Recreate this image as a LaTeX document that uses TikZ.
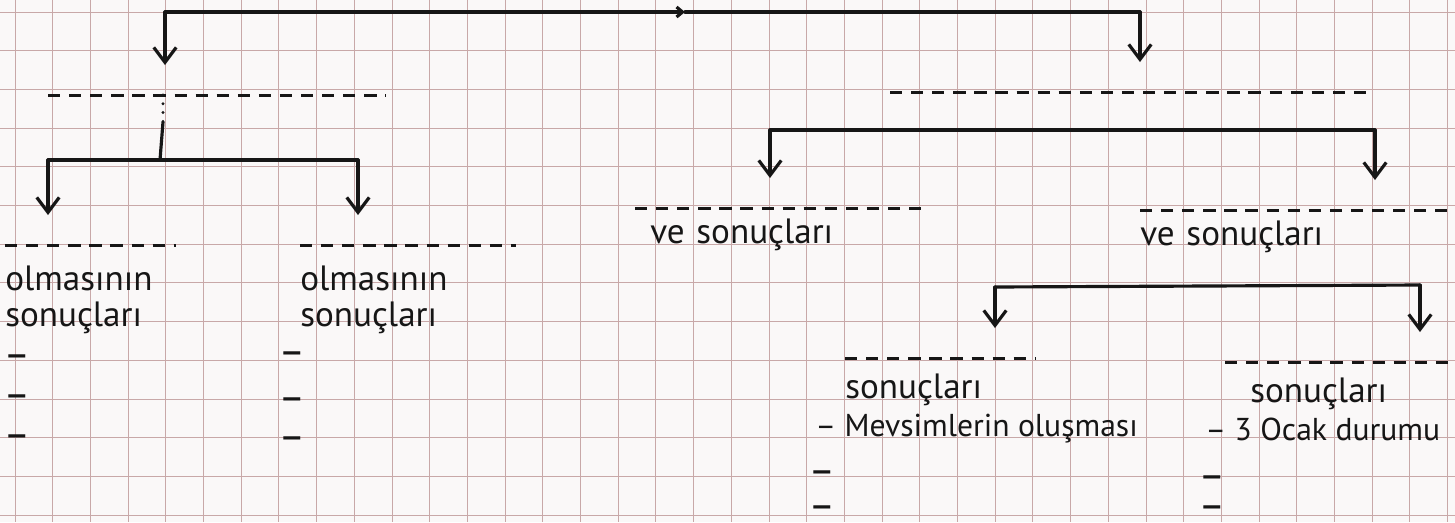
\documentclass[tikz,border=0pt]{standalone}
\usepackage{fontspec}
\setmainfont{PT Sans}
\usetikzlibrary{arrows.meta,positioning}

\definecolor{paper}{RGB}{250,248,248}
\definecolor{gridred}{RGB}{200,168,168}
\definecolor{ink}{RGB}{22,22,22}

\tikzset{
  gridline/.style={draw=gridred, line width=0.5pt},
  pen/.style={draw=ink, line width=1.8pt, line cap=round, line join=round},
  drop/.style={pen, -{Straight Barb[length=0.3cm,width=0.45cm]}, shorten >=0.6cm},
  dashline/.style={draw=ink, line width=1.7pt, dash pattern=on 7pt off 5pt},
  slot/.style={anchor=north west, inner xsep=0pt, inner ysep=0.32cm,
    text width=#1, align=left, text=ink,
    append after command={(\tikzlastnode.north west) edge[dashline] (\tikzlastnode.north east)}},
  item/.style={anchor=base west, inner sep=0pt, text=ink, font=\fontsize{18}{20}\selectfont},
  bullet/.style={anchor=west, inner sep=0pt, text=ink, font=\fontsize{16}{16}\selectfont\bfseries},
}

\begin{document}
\begin{tikzpicture}[
    x=0.02cm, y=-0.02cm,
    every node/.style={font=\fontsize{20}{20}\selectfont},
]
% paper
\useasboundingbox (0,0) rectangle (1455,522);
\fill[paper] (0,0) rectangle (1455,522);
\clip (0,0) rectangle (1455,522);
\foreach \k in {0,...,38} \draw[gridline] ({15+37.7*\k},0) -- ({15+37.7*\k},522);
\foreach \k in {0,...,13} \draw[gridline] (0,{12+38.7*\k}) -- (1455,{12+38.7*\k});

% blanks
\node[slot=6.74cm] (topleft) at (48,95) {};
\node[slot=9.6cm] (topright) at (890,92) {};
\node[slot=3.4cm, inner ysep=0.42cm] (leftA) at (5,245) {olmasının\\sonuçları};
\node[slot=4.3cm, inner ysep=0.42cm] (leftB) at (300,245) {olmasının\\sonuçları};
\node[slot=5.8cm, inner ysep=0.22cm] (rightA) at (635,208) {\hspace*{0.3cm}ve sonuçları};
\node[slot=6.3cm, inner ysep=0.22cm] (rightB) at (1140,210) {ve sonuçları};
\node[slot=3.8cm] (seasons) at (845,358) {sonuçları};
\node[slot=4.6cm] (january) at (1225,362) {\hspace*{0.5cm}sonuçları};

% items
\node[item] (seasonsA) at (815,436) {– Mevsimlerin oluşması};
\node[item] (januaryA) at (1205,440) {– 3 Ocak durumu};
\foreach \y in {360,400,440} \node[bullet] (leftAdash\y) at (5,\y) {—};
\foreach \y in {357,403,442} \node[bullet] (leftBdash\y) at (280,\y) {—};
\foreach \y in {476,511} \node[bullet] (seasonsdash\y) at (810,\y) {—};
\foreach \y in {481,511} \node[bullet] (januarydash\y) at (1200,\y) {—};

% top bracket
\coordinate (topL) at (165,12);
\coordinate (topM) at (685,12);
\coordinate (topR) at (1140,12);
\draw[pen, -{Straight Barb[length=0.12cm,width=0.2cm]}] (topL) -- (topM);
\draw[pen] (topM) -- (topR);
\draw[drop] (topL) -- (topL |- topleft.north);
\draw[drop] (topR) -- (topR |- topright.north);

% left branch
\coordinate (stemA) at (163,122);
\coordinate (leftL) at (48,160);
\coordinate (leftM) at (160,160);
\coordinate (leftR) at (358,160);
\draw[pen, dash pattern=on 0pt off 5pt] (topleft.north -| stemA) -- (stemA);
\draw[pen] (stemA) -- (leftM);
\draw[pen] (leftL) -- (leftR);
\draw[drop] (leftL) -- (leftL |- leftA.north);
\draw[drop] (leftR) -- (leftR |- leftB.north);

% right branch
\coordinate (rightL) at (770,130);
\coordinate (rightR) at (1375,130);
\draw[pen] (rightL) -- (rightR);
\draw[drop] (rightL) -- (rightL |- rightA.north);
\draw[drop] (rightR) -- (rightR |- rightB.north);
\coordinate (subL) at (995,287);
\coordinate (subR) at (1420,285);
\draw[pen] (subL) -- (subR);
\draw[drop] (subL) -- (subL |- seasons.north);
\draw[drop] (subR) -- (subR |- january.north);
\end{tikzpicture}
\end{document}
